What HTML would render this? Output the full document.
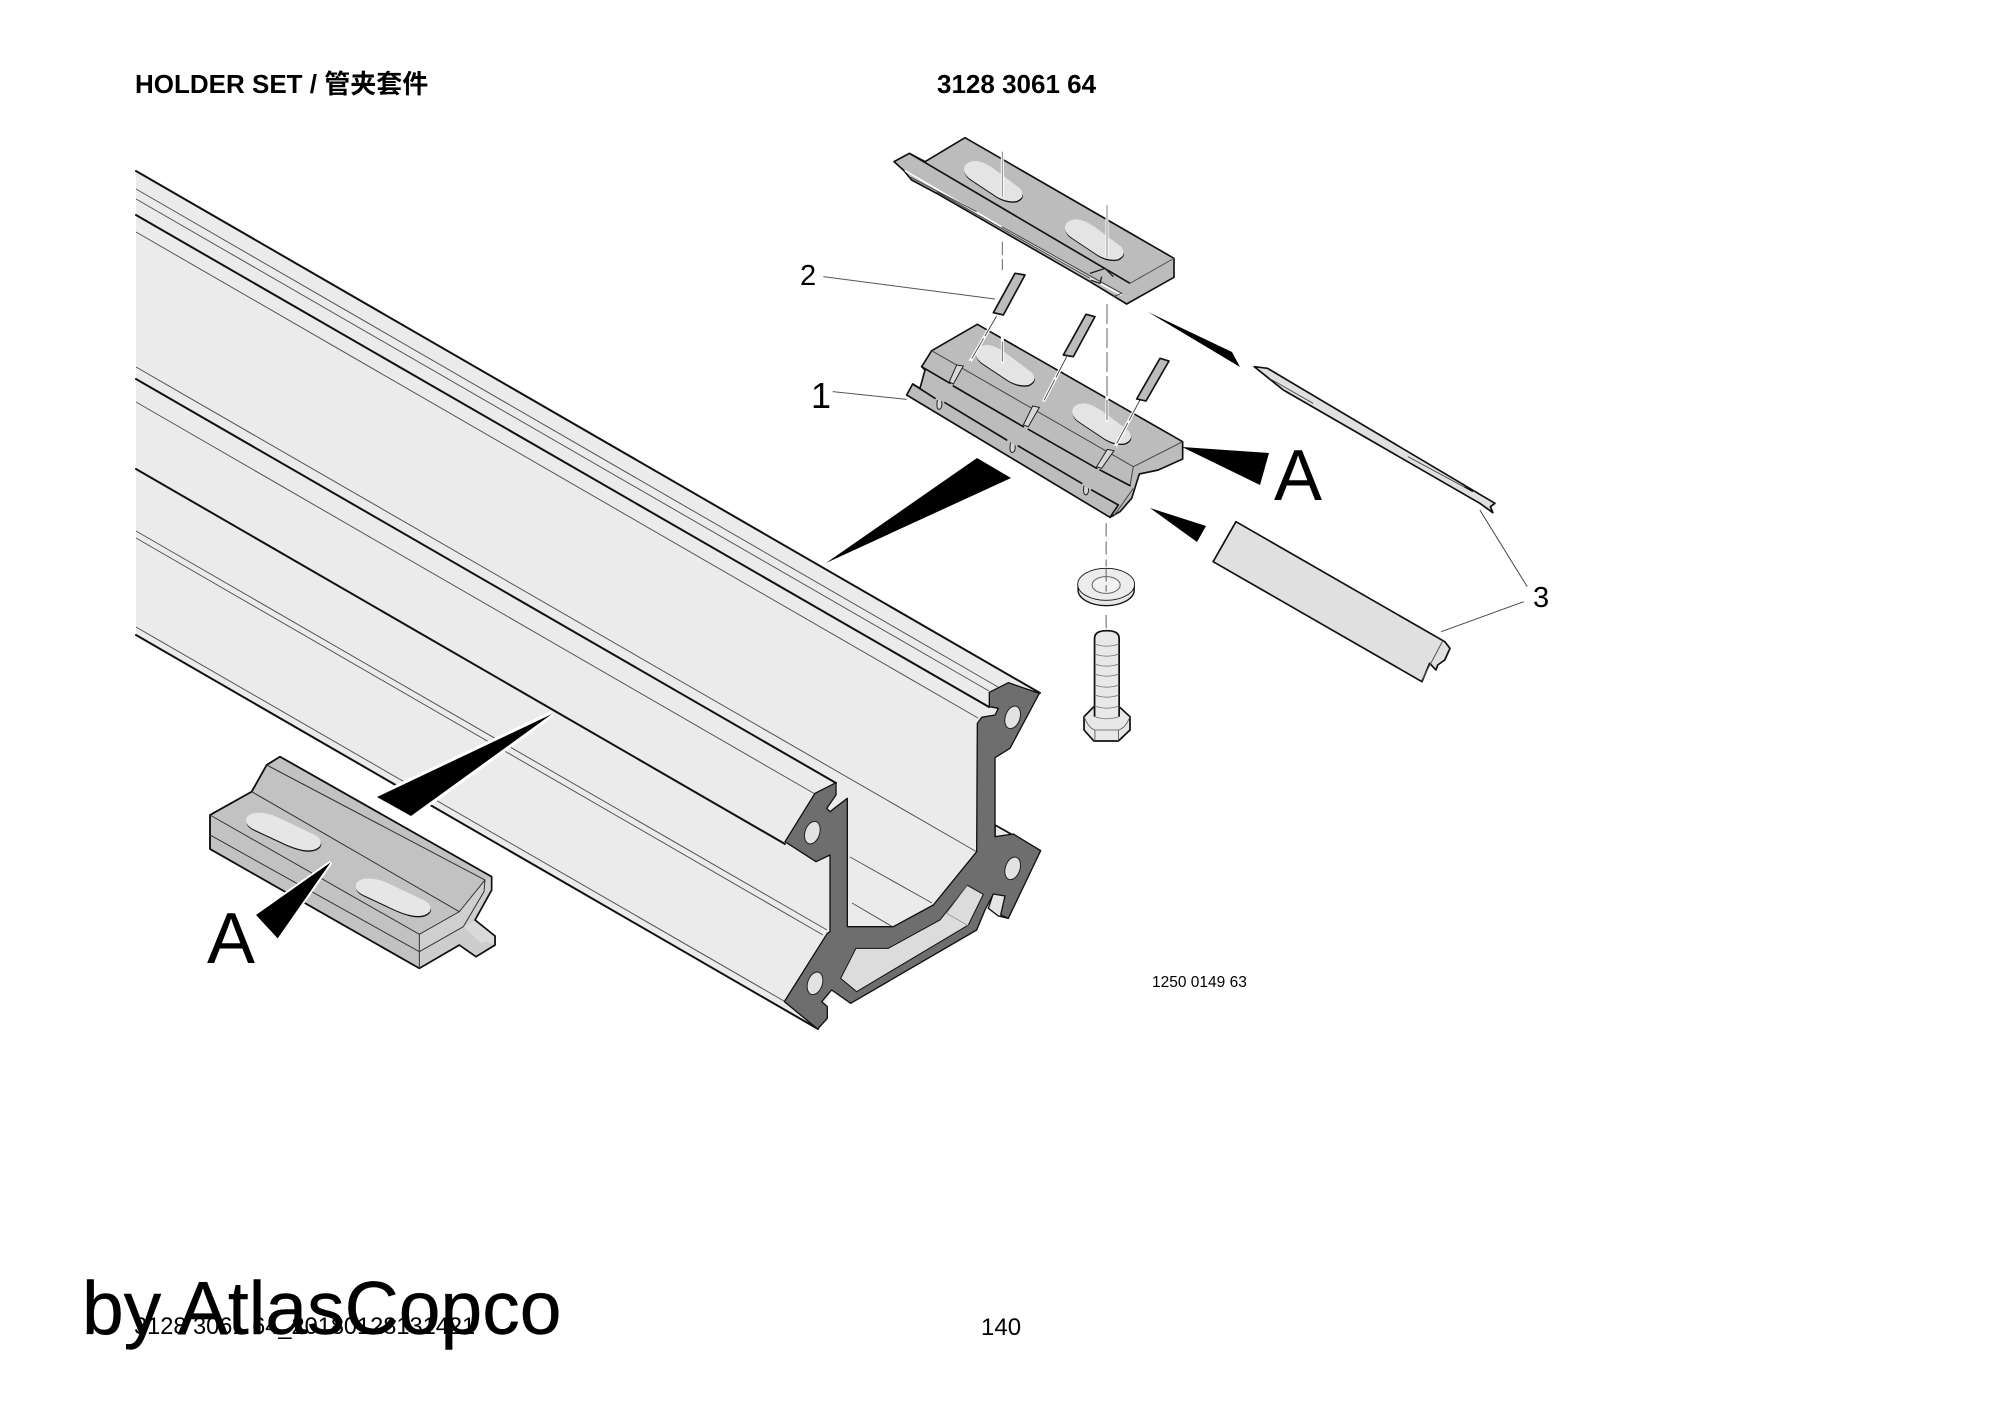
<!DOCTYPE html>
<html><head><meta charset="utf-8"><style>
html,body{margin:0;padding:0;background:#fff}
svg{display:block}
text{font-family:"Liberation Sans","Noto Sans CJK SC",sans-serif;fill:#000}
.k{stroke:#111;fill:none;stroke-width:2;stroke-linecap:round;stroke-linejoin:round}
.t{stroke:#555;fill:none;stroke-width:1}
.d{stroke:#111;stroke-linejoin:round}
</style></head><body>
<svg width="2000" height="1414" viewBox="0 0 2000 1414" xmlns="http://www.w3.org/2000/svg">
<rect width="2000" height="1414" fill="#fff"/>
<text x="135" y="93" font-size="26" font-weight="bold">HOLDER SET / 管夹套件</text>
<text x="937" y="93" font-size="26" font-weight="bold">3128 3061 64</text>

<!-- rail -->
<polygon points="136,171 1040,693 990,760 990,853 933,913 893,937 850,937 840,960 830,993 818,1029 136,635" fill="#ebebeb"/>
<g class="k">
<path d="M136 171L1040 693M136 215L989 707M136 379L836 783M136 469L785 844M136 635L818 1029"/>
</g>
<g class="t">
<path d="M136 189L998 687M136 199L989 691M136 232L978 718M136 367L977 852M136 402L815 794M136 531L827 930M136 538L823 935M136 627L784 1001M850 857L932 903M852 903L893 927"/>
</g>
<!-- profile end in zoom coords -->
<g transform="translate(750,660) scale(.33333)">
<polygon points="735,495 872,572 735,570" fill="#ebebeb" stroke="#111" stroke-width="5"/>
<polygon points="715,745 730,700 765,705 775,775 745,768" fill="#e4e4e4" stroke="#111" stroke-width="4"/>
<polygon fill="#6e6e6e" stroke="#111" stroke-width="4" stroke-linejoin="round" points="718,97 775,68 868,100 780,265 735,293 735,530 790,522 872,572 775,775 752,765 765,708 730,702 705,750 680,810 302,1030 245,990 215,1025 232,1040 232,1075 203,1107 103,1025 232,820 240,815 240,585 198,605 105,545 195,400 258,368 258,405 230,445 240,455 292,415 292,800 430,800 550,735 680,575 682,190 695,172 735,165 745,145 718,140"/>
<polygon points="652,676 700,703 655,795 320,995 272,955 318,865 415,865 570,780" fill="#dcdcdc" stroke="#111" stroke-width="3"/>
<path d="M590 760L655 797M652 676L590 760" stroke="#888" stroke-width="2" fill="none"/>
<g fill="#e2e2e2" stroke="#222" stroke-width="3">
<ellipse cx="788" cy="172" rx="22" ry="35" transform="rotate(18 788 172)"/>
<ellipse cx="187" cy="518" rx="22" ry="35" transform="rotate(18 187 518)"/>
<ellipse cx="195" cy="970" rx="22" ry="35" transform="rotate(18 195 970)"/>
<ellipse cx="788" cy="625" rx="22" ry="35" transform="rotate(18 788 625)"/>
</g>
</g>

<!-- wedges over rail -->
<polygon points="826,563 977,458 1011,478" fill="#000"/>
<polygon points="552,714 377,797 411,816" fill="#000" stroke="#fff" stroke-width="6" stroke-linejoin="miter"/>
<polygon points="552,714 377,797 411,816" fill="#000"/>

<!-- small part A -->
<g transform="translate(180,700) scale(.33333)">
<polygon class="d" stroke-width="5" fill="#c2c2c2" points="90,345 215,275 260,195 300,170 935,530 935,570 885,660 945,708 945,735 888,770 838,735 718,805 90,447"/>
<polygon points="718,703 838,635 915,540 935,530 935,570 885,660 850,680 718,755" fill="#cfcfcf"/>
<polygon points="718,755 850,680 885,660 945,708 945,735 888,770 838,735 718,805" fill="#cdcdcd"/>
<polygon points="850,680 885,660 945,708 945,735 918,725 905,730" fill="#dadada"/>
<polygon fill="none" stroke="#111" stroke-width="5" stroke-linejoin="round" points="90,345 215,275 260,195 300,170 935,530 935,570 885,660 945,708 945,735 888,770 838,735 718,805 90,447"/>
<g fill="none" stroke="#333" stroke-width="3">
<path d="M90 345L718 703L838 635L915 540L260 195M215 275L838 635M90 405L718 755L850 680M718 703V805M915 540L912 575L850 680"/>
</g>
<path id="s1" d="M198 362Q200 338 240 338Q270 340 300 355L405 405Q430 420 420 438Q405 455 370 450Q340 445 300 425L225 390Q198 378 198 362Z" fill="#111" transform="translate(1,4)"/>
<path d="M198 362Q200 338 240 338Q270 340 300 355L405 405Q430 420 420 438Q405 455 370 450Q340 445 300 425L225 390Q198 378 198 362Z" fill="#e6e6e6"/>
<path d="M198 362Q200 338 240 338Q270 340 300 355L405 405Q430 420 420 438Q405 455 370 450Q340 445 300 425L225 390Q198 378 198 362Z" fill="#111" transform="translate(330,201)"/>
<path d="M198 362Q200 338 240 338Q270 340 300 355L405 405Q430 420 420 438Q405 455 370 450Q340 445 300 425L225 390Q198 378 198 362Z" fill="#e6e6e6" transform="translate(329,197)"/>
<polygon points="452,487 228,645 293,715" fill="#000" stroke="#fff" stroke-width="12"/>
<polygon points="452,487 228,645 293,715" fill="#000"/>
</g>
<text x="207" y="963" font-size="72">A</text>

<!-- top plate -->
<g transform="translate(780,100) scale(.33333)">
<polygon fill="#bcbcbc" stroke="#111" stroke-width="5" stroke-linejoin="round" points="342,185 388,160 435,185 555,113 1182,475 1182,532 1040,612 930,545 470,280 395,240 370,210"/>
<path d="M388 160L1050 550" fill="none" stroke="#111" stroke-width="5"/>
<path d="M1050 550L1182 475" stroke="#555" stroke-width="3" fill="none"/>
<path d="M375 212L930 535L1025 585" fill="none" stroke="#fff" stroke-width="5"/>
<path d="M392 232L590 335M470 275L930 535M665 380L1025 580L1000 590" fill="none" stroke="#444" stroke-width="3"/>
<path d="M930 520L975 505L1000 530M965 530L960 550L932 540" fill="none" stroke="#222" stroke-width="4"/>
<path d="M552 212Q550 183 590 183Q610 185 640 205L720 265Q740 290 710 303Q680 308 650 290L575 240Q555 228 552 212Z" fill="#111" transform="translate(1,4)"/>
<path d="M552 212Q550 183 590 183Q610 185 640 205L720 265Q740 290 710 303Q680 308 650 290L575 240Q555 228 552 212Z" fill="#e4e4e4"/>
<path d="M552 212Q550 183 590 183Q610 185 640 205L720 265Q740 290 710 303Q680 308 650 290L575 240Q555 228 552 212Z" fill="#111" transform="translate(304,179)"/>
<path d="M552 212Q550 183 590 183Q610 185 640 205L720 265Q740 290 710 303Q680 308 650 290L575 240Q555 228 552 212Z" fill="#e4e4e4" transform="translate(303,175)"/>
<path d="M667 155V290M981 315V472" stroke="#fff" stroke-width="9" fill="none"/>
<path d="M667 155V290M981 315V472" stroke="#888" stroke-width="3" fill="none"/>
<path d="M667 425V510" stroke="#666" stroke-width="3" stroke-dasharray="40 12" fill="none"/>
</g>

<!-- lower plate -->
<g transform="translate(900,320) scale(.33333)">
<polygon fill="#bcbcbc" stroke="#111" stroke-width="5" stroke-linejoin="round" points="20,225 38,192 60,205 75,150 65,140 95,92 232,13 848,365 848,417 775,450 718,462 695,535 660,575 630,592"/>
<path d="M552 212Q550 183 590 183Q610 185 640 205L720 265Q740 290 710 303Q680 308 650 290L575 240Q555 228 552 212Z" fill="#111" transform="translate(-324,-104)"/>
<path d="M552 212Q550 183 590 183Q610 185 640 205L720 265Q740 290 710 303Q680 308 650 290L575 240Q555 228 552 212Z" fill="#e4e4e4" transform="translate(-325,-108)"/>
<path d="M552 212Q550 183 590 183Q610 185 640 205L720 265Q740 290 710 303Q680 308 650 290L575 240Q555 228 552 212Z" fill="#111" transform="translate(-34,71)"/>
<path d="M552 212Q550 183 590 183Q610 185 640 205L720 265Q740 290 710 303Q680 308 650 290L575 240Q555 228 552 212Z" fill="#e4e4e4" transform="translate(-35,67)"/>
<path d="M95 92L700 440L848 365M700 440L690 497M700 505L640 590" fill="none" stroke="#444" stroke-width="3"/>
<path d="M65 140L150 190M160 198L370 320M385 328L590 445M600 450L690 497M38 192L105 235M135 248L320 360M355 378L545 490M575 510L655 555M655 555L630 592" fill="none" stroke="#111" stroke-width="5" stroke-linecap="round"/>
<g fill="#d8d8d8" stroke="#222" stroke-width="3">
<polygon points="170,135 190,138 160,192 148,185"/>
<polygon points="398,258 418,262 385,320 370,315"/>
<polygon points="622,388 642,392 605,445 590,440"/>
<path d="M112 240Q108 270 118 268Q128 264 125 243"/>
<path d="M332 368Q326 396 337 398Q348 394 345 376"/>
<path d="M552 497Q548 525 558 525Q568 520 565 505"/>
</g>
</g>
<g transform="translate(780,100) scale(.33333)">
<path d="M667 675V790M981 612V965" stroke="#fff" stroke-width="9" fill="none"/>
<path d="M667 725V790M981 612V965" stroke="#666" stroke-width="3" stroke-dasharray="60 12" fill="none"/>
<g stroke="#fff" stroke-width="10" fill="none"><path d="M650 648L570 785M860 770L790 905M1080 900L1005 1040"/></g>
<g stroke="#333" stroke-width="2.5" fill="none" stroke-dasharray="70 8"><path d="M650 648L570 785M860 770L790 905M1080 900L1005 1040"/></g>
<g fill="#bcbcbc" stroke="#111" stroke-width="5" stroke-linejoin="round">
<polygon points="705,520 735,525 670,645 640,638"/>
<polygon points="918,643 945,650 880,770 850,765"/>
<polygon points="1140,775 1167,783 1098,903 1070,897"/>
</g>
<path d="M130 530L645 597M158 875L380 898" stroke="#555" stroke-width="3" fill="none"/>
</g>
<text x="800" y="285" font-size="29">2</text>
<text x="811" y="408" font-size="36">1</text>
<text x="1533" y="607" font-size="29">3</text>

<!-- wedges right -->
<polygon points="1182,447 1269,453 1260,485" fill="#000"/>
<polygon points="1148,312 1232,352 1240,367" fill="#000"/>
<polygon points="1150,508 1206,526 1197,542" fill="#000"/>
<text x="1274" y="500" font-size="72">A</text>

<!-- right components; x scale 2.85 y scale 3 zoom coordinates -->
<g transform="translate(1050,340) scale(.35088,.33333)">
<polygon points="582,80 620,85 1268,490 1255,500 1262,518 1225,490 665,150" fill="#e0e0e0" stroke="#111" stroke-width="5" stroke-linejoin="round"/>
<path d="M625 115L750 190M1020 350L1205 455" stroke="#444" stroke-width="2.5" fill="none"/>
<path d="M1175 430L1205 455L1180 440" stroke="#111" stroke-width="3" fill="none"/>
<polygon fill="#e0e0e0" stroke="#111" stroke-width="5" stroke-linejoin="round" points="530,545 1125,905 1140,925 1125,960 1105,975 1100,990 1082,970 1060,1025 465,665"/>
<path d="M1118 905L1060 1020" stroke="#555" stroke-width="3" fill="none"/>
<path d="M1225 510L1360 740M1115 875L1350 785" stroke="#444" stroke-width="2.8" fill="none"/>
<!-- washer -->
<path d="M80 735V750A80 47 0 0 0 240 750V735Z" fill="#e6e6e6" stroke="#111" stroke-width="4"/>
<ellipse cx="160" cy="733" rx="81" ry="48" fill="#ececec" stroke="#111" stroke-width="2.5"/>
<ellipse cx="160" cy="735" rx="40" ry="25" fill="#f2f2f2" stroke="#666" stroke-width="3"/>
<path d="M160 550V680" stroke="#666" stroke-width="3" stroke-dasharray="40 14" fill="none"/>
<path d="M160 685V755M160 825V870" stroke="#666" stroke-width="3" stroke-dasharray="40 10" fill="none"/>
<!-- bolt -->
<polygon points="97,1130 125,1100 197,1100 228,1130 228,1170 195,1203 125,1203 97,1170" fill="#e8e8e8" stroke="#111" stroke-width="5" stroke-linejoin="round"/>
<path d="M127 1130V895Q127 872 162 872Q197 872 197 895V1130" fill="#e8e8e8" stroke="#111" stroke-width="5"/>
<path d="M127 912Q162 925 197 912M127 942Q162 955 197 942M127 972Q162 985 197 972M127 1002Q162 1015 197 1002M127 1035Q162 1048 197 1035M127 1065Q162 1078 197 1065M127 1098Q162 1111 197 1098M127 1130Q162 1143 197 1130" stroke="#777" stroke-width="2.5" fill="none"/>
<path d="M97 1130Q110 1165 128 1170H195Q215 1165 228 1130M128 1170V1203M195 1170V1203" stroke="#555" stroke-width="2.5" fill="none"/>
</g>

<text x="1152" y="987" font-size="15.5">1250 0149 63</text>
<text x="134" y="1334" font-size="23.6">3128 3061 64_20180128131421</text>
<text x="981" y="1335" font-size="24">140</text>
<text x="82" y="1334" font-size="75" stroke="#000" stroke-width=".4">by AtlasCopco</text>
</svg>
</body></html>
